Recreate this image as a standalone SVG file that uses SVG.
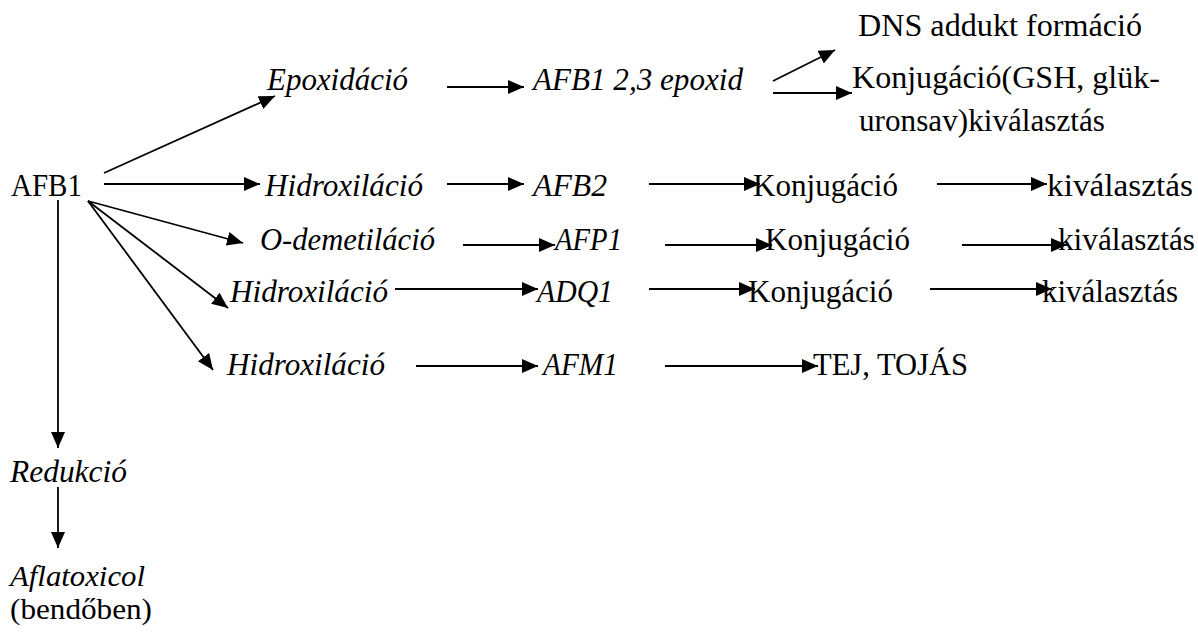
<svg xmlns="http://www.w3.org/2000/svg" width="1198" height="632" viewBox="0 0 1198 632">
<defs>
<marker id="ah" markerUnits="userSpaceOnUse" markerWidth="17" markerHeight="15" refX="16" refY="7" orient="auto">
<path d="M0,0 L16,7 L0,14 z" fill="#000"/>
</marker>
<style>
.i{font-style:italic}
.c line{stroke:#000;stroke-width:1.8;marker-end:url(#ah)}
</style>
</defs>
<rect width="1198" height="632" fill="#fff"/>
<g id="connectors" class="c">
<line x1="104" y1="173" x2="275" y2="96"/>
<line x1="104" y1="184" x2="260" y2="184"/>
<line x1="88" y1="201" x2="243" y2="243"/>
<line x1="88" y1="201" x2="228" y2="308"/>
<line x1="88" y1="201" x2="213" y2="370"/>
<line x1="58" y1="200" x2="58" y2="448"/>
<line x1="58" y1="487" x2="58" y2="548"/>
<line x1="447" y1="87" x2="524" y2="87"/>
<line x1="773" y1="81" x2="835" y2="50"/>
<line x1="773" y1="93" x2="852" y2="93"/>
<line x1="447" y1="184" x2="524" y2="184"/>
<line x1="649" y1="184" x2="760" y2="184"/>
<line x1="937" y1="184" x2="1047" y2="184"/>
<line x1="463" y1="245" x2="555" y2="245"/>
<line x1="665" y1="245" x2="772" y2="245"/>
<line x1="962" y1="245" x2="1067" y2="245"/>
<line x1="395" y1="289" x2="538" y2="289"/>
<line x1="649" y1="289" x2="755" y2="289"/>
<line x1="930" y1="289" x2="1052" y2="289"/>
<line x1="416" y1="366" x2="538" y2="366"/>
<line x1="665" y1="366" x2="818" y2="366"/>
</g>
<g font-family="'Times New Roman', Times, 'Liberation Serif', 'Noto Serif', 'DejaVu Serif', serif" font-size="31" fill="#000">
<g id="n-afb1"><text x="11" y="196" textLength="71" lengthAdjust="spacingAndGlyphs">AFB1</text></g>
<g id="n-epox"><text class="i" x="267" y="90" textLength="141" lengthAdjust="spacingAndGlyphs">Epoxidáció</text></g>
<g id="n-afb1epox"><text class="i" x="533" y="90" textLength="210" lengthAdjust="spacingAndGlyphs">AFB1 2,3 epoxid</text></g>
<g id="n-dns"><text x="858" y="36" textLength="284" lengthAdjust="spacingAndGlyphs">DNS addukt formáció</text></g>
<g id="n-konjgsh"><text x="852" y="88" textLength="308" lengthAdjust="spacingAndGlyphs">Konjugáció(GSH, glük-</text><text x="859" y="131" textLength="246" lengthAdjust="spacingAndGlyphs">uronsav)kiválasztás</text></g>
<g id="n-hidr1"><text class="i" x="265" y="196" textLength="158" lengthAdjust="spacingAndGlyphs">Hidroxiláció</text></g>
<g id="n-afb2"><text class="i" x="533" y="196" textLength="74" lengthAdjust="spacingAndGlyphs">AFB2</text></g>
<g id="n-konj1"><text x="753" y="196" textLength="145" lengthAdjust="spacingAndGlyphs">Konjugáció</text></g>
<g id="n-kiv1"><text x="1047" y="196" textLength="146" lengthAdjust="spacingAndGlyphs">kiválasztás</text></g>
<g id="n-odem"><text class="i" x="260" y="250" textLength="175" lengthAdjust="spacingAndGlyphs">O-demetiláció</text></g>
<g id="n-afp1"><text class="i" x="555" y="250" textLength="67" lengthAdjust="spacingAndGlyphs">AFP1</text></g>
<g id="n-konj2"><text x="765" y="250" textLength="145" lengthAdjust="spacingAndGlyphs">Konjugáció</text></g>
<g id="n-kiv2"><text x="1058" y="250" textLength="137" lengthAdjust="spacingAndGlyphs">kiválasztás</text></g>
<g id="n-hidr2"><text class="i" x="230" y="302" textLength="158" lengthAdjust="spacingAndGlyphs">Hidroxiláció</text></g>
<g id="n-adq1"><text class="i" x="537" y="302" textLength="76" lengthAdjust="spacingAndGlyphs">ADQ1</text></g>
<g id="n-konj3"><text x="748" y="302" textLength="145" lengthAdjust="spacingAndGlyphs">Konjugáció</text></g>
<g id="n-kiv3"><text x="1042" y="302" textLength="136" lengthAdjust="spacingAndGlyphs">kiválasztás</text></g>
<g id="n-hidr3"><text class="i" x="227" y="375" textLength="158" lengthAdjust="spacingAndGlyphs">Hidroxiláció</text></g>
<g id="n-afm1"><text class="i" x="543" y="375" textLength="75" lengthAdjust="spacingAndGlyphs">AFM1</text></g>
<g id="n-tej"><text x="813" y="375" textLength="155" lengthAdjust="spacingAndGlyphs">TEJ, TOJÁS</text></g>
<g id="n-red"><text class="i" x="10" y="482" textLength="117" lengthAdjust="spacingAndGlyphs">Redukció</text></g>
<g id="n-aflatox"><text class="i" x="10" y="586" font-size="29" textLength="135" lengthAdjust="spacingAndGlyphs">Aflatoxicol</text><text x="10" y="619" font-size="29" textLength="142" lengthAdjust="spacingAndGlyphs">(bendőben)</text></g>
</g>
</svg>
